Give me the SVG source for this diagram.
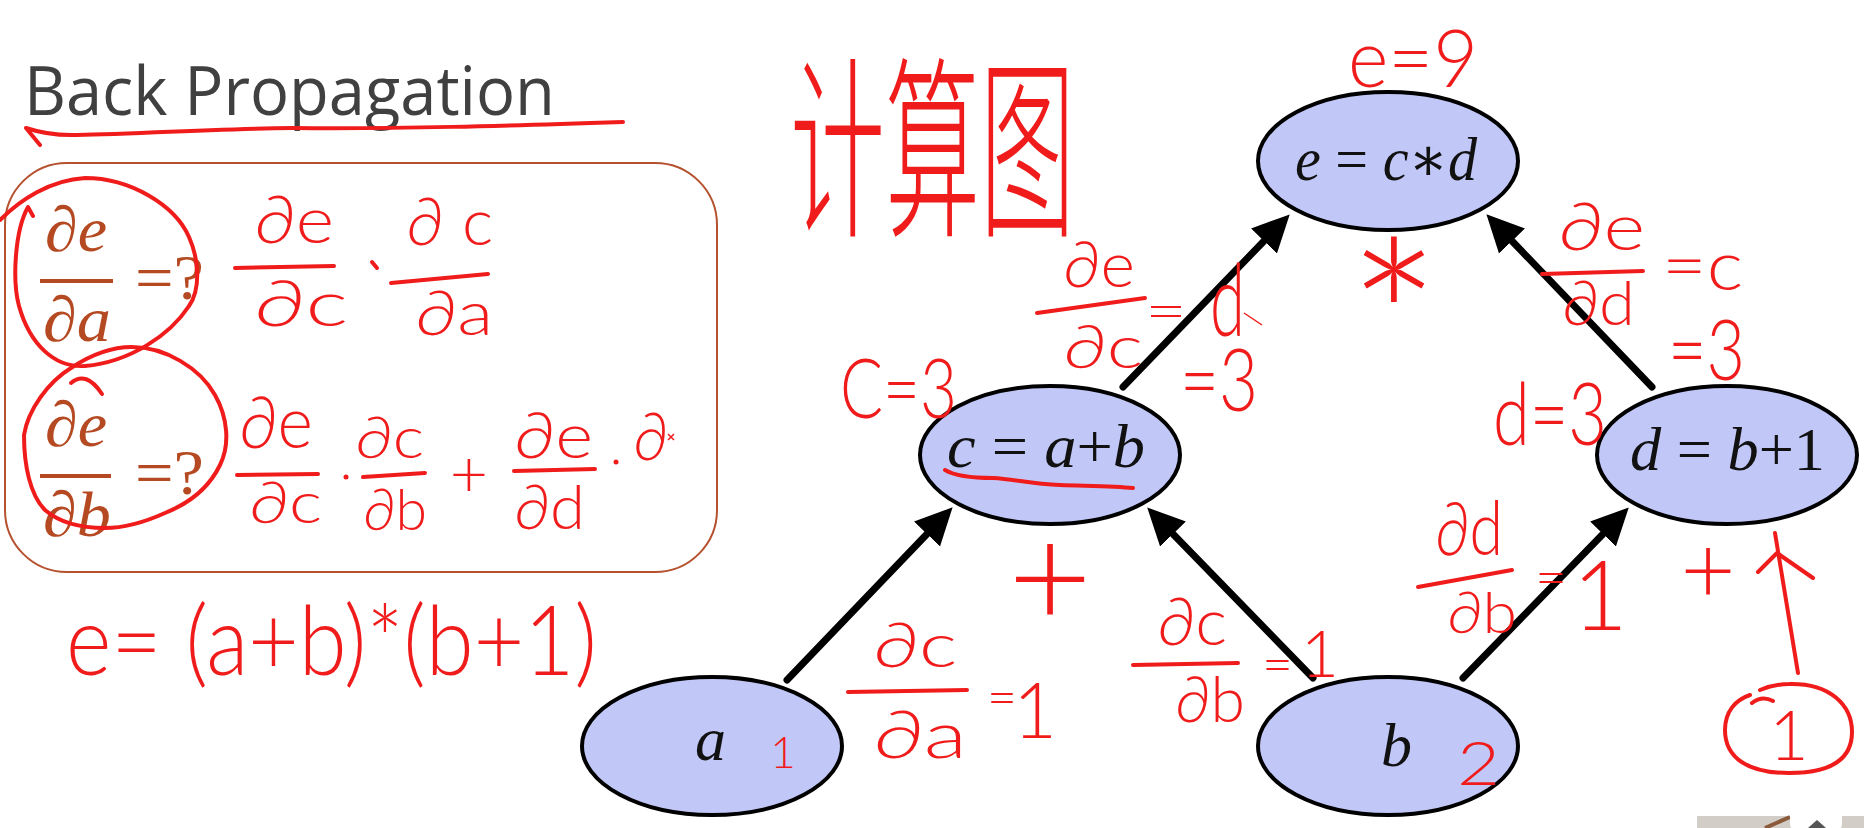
<svg xmlns="http://www.w3.org/2000/svg" width="1864" height="828" viewBox="0 0 1864 828">
<style>
.node{fill:#c1c8f8;stroke:#000;stroke-width:4}
.lbl{font-family:"Liberation Serif","DejaVu Serif",serif;font-size:62px;fill:#111}
.it{font-style:italic}
.edge{stroke:#000;stroke-width:7;fill:none;stroke-linecap:round}
.br{font-family:"Liberation Serif","DejaVu Serif",serif;font-size:64px;fill:#b54a22}
.hw{font-family:"Lato","DejaVu Sans",sans-serif;font-weight:300;fill:#f01c1c}
.hl{stroke:#f01c1c;stroke-width:4;fill:none;stroke-linecap:round;stroke-linejoin:round}
</style>
<defs>
<marker id="ah" markerUnits="userSpaceOnUse" markerWidth="40" markerHeight="40" viewBox="0 -20 40 40" refX="0" refY="0" orient="auto">
<path d="M0,-18 L37,0 L0,18 z" fill="#000"/>
</marker>
</defs>
<rect width="1864" height="828" fill="#fff"/>

<g id="title">
<text x="24" y="115" font-family="'Open Sans','Noto Sans',sans-serif" font-size="67" fill="#404040" textLength="531" lengthAdjust="spacingAndGlyphs">Back Propagation</text>
<path class="hl" d="M623,122 C500,126 400,129 293,128 C200,129 120,135 71,135 C50,135 35,131 26,128 L40,145"/>
</g>

<g id="formula-box">
<rect x="5" y="163" width="712" height="409" rx="62" fill="none" stroke="#b5512e" stroke-width="2"/>
<text class="br it" x="45" y="251" textLength="62" lengthAdjust="spacingAndGlyphs">∂e</text>
<rect x="40" y="279" width="73" height="4" fill="#b54a22"/>
<text class="br it" x="43" y="341" textLength="68" lengthAdjust="spacingAndGlyphs">∂a</text>
<text class="br" x="135" y="299" font-size="68" textLength="69" lengthAdjust="spacingAndGlyphs">=?</text>
<text class="br it" x="45" y="446" textLength="62" lengthAdjust="spacingAndGlyphs">∂e</text>
<rect x="40" y="474" width="71" height="4" fill="#b54a22"/>
<text class="br it" x="43" y="536" textLength="68" lengthAdjust="spacingAndGlyphs">∂b</text>
<text class="br" x="135" y="494" font-size="68" textLength="69" lengthAdjust="spacingAndGlyphs">=?</text>
</g>

<g id="annotations-box">
<path class="hl" d="M0,220 C20,200 50,180 85,178 C130,178 175,205 189,237 C200,262 200,290 189,306 C170,335 130,362 85,366 C55,368 30,345 19,306 C12,280 15,230 28,207 L33,216"/>
<path class="hl" d="M24,435 C28,410 48,382 71,368 C92,354 112,347 132,347 C165,347 200,368 215,395 C228,418 230,445 220,465 C208,490 185,505 165,513 C145,522 125,528 105,528 C80,528 60,523 45,510 C30,495 24,465 24,435"/>
<path class="hl" d="M71,383 Q86,370 102,394"/>

<text class="hw" x="254" y="243" font-size="66" textLength="80" lengthAdjust="spacingAndGlyphs">∂e</text>
<path class="hl" d="M235,268 L334,266"/>
<text class="hw" x="254" y="326" font-size="64" textLength="94" lengthAdjust="spacingAndGlyphs">∂c</text>
<path class="hl" d="M372,262 L377,268"/>
<text class="hw" x="406" y="245" font-size="66" textLength="87" lengthAdjust="spacing">∂c</text>
<path class="hl" d="M391,283 L488,274"/>
<text class="hw" x="415" y="335" font-size="62" textLength="78" lengthAdjust="spacingAndGlyphs">∂a</text>

<text class="hw" x="239" y="448" font-size="72" textLength="74" lengthAdjust="spacingAndGlyphs">∂e</text>
<path class="hl" d="M237,475 L318,474"/>
<text class="hw" x="249" y="523" font-size="58" textLength="73" lengthAdjust="spacingAndGlyphs">∂c</text>
<circle cx="346" cy="477" r="2.5" fill="#f01c1c"/>
<text class="hw" x="355" y="458" font-size="58" textLength="69" lengthAdjust="spacingAndGlyphs">∂c</text>
<path class="hl" d="M363,477 L425,473"/>
<text class="hw" x="363" y="530" font-size="58" textLength="64" lengthAdjust="spacingAndGlyphs">∂b</text>
<text class="hw" x="469" y="497" font-size="66" text-anchor="middle">+</text>
<text class="hw" x="514" y="458" font-size="64" textLength="79" lengthAdjust="spacingAndGlyphs">∂e</text>
<path class="hl" d="M514,471 L595,469"/>
<text class="hw" x="514" y="529" font-size="62" textLength="71" lengthAdjust="spacingAndGlyphs">∂d</text>
<circle cx="616" cy="462" r="2.5" fill="#f01c1c"/>
<text class="hw" x="633" y="460" font-size="66" textLength="35" lengthAdjust="spacingAndGlyphs">∂</text>
<path d="M668,434 L674,440 M674,434 L668,440" stroke="#f01c1c" stroke-width="1.5"/>

<text class="hw" x="66" y="675" font-size="96" textLength="531" lengthAdjust="spacingAndGlyphs">e= (a+b)*(b+1)</text>
</g>

<g id="graph-title">
<text x="0" y="0" transform="translate(790,222) scale(0.95,1.95)" font-family="'Noto Sans CJK SC','Noto Sans CJK JP',sans-serif" font-weight="200" font-size="100" fill="#f01c1c">计算图</text>
</g>

<g id="connectors">
<line class="edge" x1="787" y1="680" x2="927" y2="534" marker-end="url(#ah)"/>
<line class="edge" x1="1313" y1="678" x2="1173" y2="534" marker-end="url(#ah)"/>
<line class="edge" x1="1463" y1="678" x2="1603" y2="534" marker-end="url(#ah)"/>
<line class="edge" x1="1123" y1="387" x2="1264" y2="241" marker-end="url(#ah)"/>
<line class="edge" x1="1652" y1="387" x2="1512" y2="241" marker-end="url(#ah)"/>
</g>

<g id="node-e">
<ellipse class="node" cx="1388" cy="161" rx="130" ry="69"/>
<text class="lbl" x="1295" y="180" textLength="182" lengthAdjust="spacingAndGlyphs"><tspan class="it">e</tspan> = <tspan class="it">c</tspan>∗<tspan class="it">d</tspan></text>
</g>
<g id="node-c">
<ellipse class="node" cx="1050" cy="455" rx="130" ry="69"/>
<text class="lbl" x="947" y="467" textLength="198" lengthAdjust="spacingAndGlyphs"><tspan class="it">c</tspan> = <tspan class="it">a</tspan>+<tspan class="it">b</tspan></text>
</g>
<g id="node-d">
<ellipse class="node" cx="1727" cy="455" rx="130" ry="69"/>
<text class="lbl" x="1630" y="470" textLength="195" lengthAdjust="spacingAndGlyphs"><tspan class="it">d</tspan> = <tspan class="it">b</tspan>+1</text>
</g>
<g id="node-a">
<ellipse class="node" cx="712" cy="746" rx="130" ry="69"/>
<text class="lbl it" x="695" y="760">a</text>
</g>
<g id="node-b">
<ellipse class="node" cx="1388" cy="746" rx="130" ry="69"/>
<text class="lbl it" x="1381" y="766">b</text>
</g>

<g id="annotations-graph">
<text class="hw" x="1348" y="87" font-size="80" textLength="130" lengthAdjust="spacingAndGlyphs">e=9</text>
<text class="hw" x="1394" y="400" font-size="220" text-anchor="middle">*</text>

<text class="hw" x="840" y="418" font-size="82" textLength="117" lengthAdjust="spacingAndGlyphs">C=3</text>
<text class="hw" x="1063" y="287" font-size="64" textLength="72" lengthAdjust="spacingAndGlyphs">∂e</text>
<path class="hl" d="M1037,313 L1145,298"/>
<text class="hw" x="1063" y="368" font-size="60" textLength="80" lengthAdjust="spacingAndGlyphs">∂c</text>
<text class="hw" x="1145" y="331" font-size="58" textLength="42" lengthAdjust="spacingAndGlyphs">=</text>
<text class="hw" x="1210" y="336" font-size="100" textLength="35" lengthAdjust="spacingAndGlyphs">d</text>
<path d="M1244,313 L1262,325" stroke="#f01c1c" stroke-width="1.5"/>
<text class="hw" x="1180" y="411" font-size="86" textLength="78" lengthAdjust="spacingAndGlyphs">=3</text>

<path class="hl" d="M945,470 C955,476 970,478 993,478 C1015,479 1030,484 1060,485 C1090,486 1115,486 1133,488"/>
<text class="hw" x="1050" y="628" font-size="145" text-anchor="middle">+</text>

<text class="hw" x="1558" y="250" font-size="66" textLength="87" lengthAdjust="spacingAndGlyphs">∂e</text>
<path class="hl" d="M1542,274 L1643,271"/>
<text class="hw" x="1562" y="325" font-size="62" textLength="73" lengthAdjust="spacingAndGlyphs">∂d</text>
<text class="hw" x="1662" y="290" font-size="68" textLength="81" lengthAdjust="spacingAndGlyphs">=c</text>
<text class="hw" x="1668" y="380" font-size="84" textLength="77" lengthAdjust="spacingAndGlyphs">=3</text>
<text class="hw" x="1493" y="445" font-size="86" textLength="114" lengthAdjust="spacingAndGlyphs">d=3</text>

<text class="hw" x="873" y="667" font-size="62" textLength="84" lengthAdjust="spacingAndGlyphs">∂c</text>
<path class="hl" d="M848,692 L967,690"/>
<text class="hw" x="873" y="758" font-size="66" textLength="94" lengthAdjust="spacingAndGlyphs">∂a</text>
<text class="hw" x="987" y="716" font-size="54" textLength="30" lengthAdjust="spacingAndGlyphs">=</text>
<text class="hw" x="1035" y="738" font-size="76" text-anchor="middle">1</text>
<text class="hw" x="783" y="768" font-size="44" text-anchor="middle">1</text>

<text class="hw" x="1157" y="645" font-size="66" textLength="70" lengthAdjust="spacingAndGlyphs">∂c</text>
<path class="hl" d="M1133,665 L1238,663"/>
<text class="hw" x="1175" y="722" font-size="64" textLength="70" lengthAdjust="spacingAndGlyphs">∂b</text>
<text class="hw" x="1262" y="683" font-size="54" textLength="31" lengthAdjust="spacingAndGlyphs">=</text>
<text class="hw" x="1320" y="677" font-size="66" text-anchor="middle">1</text>

<text class="hw" x="1435" y="555" font-size="74" textLength="68" lengthAdjust="spacingAndGlyphs">∂d</text>
<path class="hl" d="M1418,587 L1512,570"/>
<text class="hw" x="1447" y="633" font-size="58" textLength="70" lengthAdjust="spacingAndGlyphs">∂b</text>
<text class="hw" x="1535" y="596" font-size="54" textLength="32" lengthAdjust="spacingAndGlyphs">=</text>
<text class="hw" x="1600" y="630" font-size="96" text-anchor="middle">1</text>
<text class="hw" x="1457" y="785" font-size="62" textLength="43" lengthAdjust="spacingAndGlyphs">2</text>

<text class="hw" x="1708" y="603" font-size="95" text-anchor="middle">+</text>
<path class="hl" d="M1798,673 L1775,533 M1758,572 L1777,553 L1813,578"/>
<path class="hl" d="M1760,690 C1770,686 1780,684 1789,684 C1830,683 1852,705 1852,732 C1852,760 1830,773 1789,773 C1748,773 1725,758 1725,730 C1725,712 1735,700 1750,695 M1752,703 Q1762,695 1773,701"/>
<text class="hw" x="1789" y="760" font-size="68" text-anchor="middle">1</text>
</g>

<g id="thumbnail">
<rect x="1697" y="816" width="167" height="12" fill="#d2cdc7"/>
<path d="M1765,828 L1790,817" stroke="#8a5a3a" stroke-width="4"/>
<path d="M1803,802 L1810,810 M1829,802 L1822,810" stroke="#fff" stroke-width="4" stroke-linecap="round"/>
<rect x="1790" y="809" width="52" height="22" rx="7" fill="#fff"/>
<path d="M1808,828 L1817,820 L1826,828 z" fill="#555"/>
</g>
</svg>
